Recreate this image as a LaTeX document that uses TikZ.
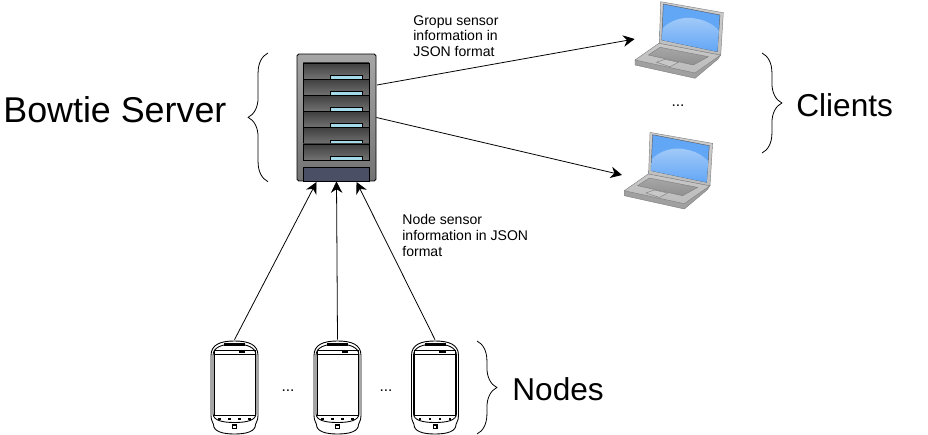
\documentclass[tikz,border=0pt]{standalone}
\usepackage{fontspec}
\setmainfont{Liberation Sans}
\usepackage{tikz}
\usetikzlibrary{arrows.meta,decorations.pathreplacing}
\definecolor{lidgray}{HTML}{BCBCBC}
\definecolor{basegray}{HTML}{C8C8C8}
\definecolor{frontgray}{HTML}{A0A0A0}
\definecolor{keygray}{HTML}{909090}
\definecolor{screenblue}{HTML}{62A6F6}
\definecolor{screenlight}{HTML}{A4CBF8}
\definecolor{barblue}{HTML}{A5DBE8}
\definecolor{panelblue}{HTML}{4A4F66}
\tikzstyle{host}=[rectangle,inner sep=0,minimum width=1.76cm,minimum height=1.56cm]
\tikzstyle{handset}=[rectangle,inner sep=0,minimum width=0.94cm,minimum height=1.9cm]
\tikzstyle{rack}=[rectangle,draw=black,rounded corners=1pt,line width=0.5pt,top color=gray!70,bottom color=gray!90!black,inner sep=0,minimum width=1.58cm,minimum height=2.54cm]
\tikzstyle{tiny}=[align=left,anchor=north west,inner sep=0,font=\fontsize{8}{9}\selectfont]
\tikzstyle{big}=[inner sep=0,font=\fontsize{20.4}{24}\selectfont]
\tikzstyle{mid}=[inner sep=0,font=\fontsize{18}{22}\selectfont]
\tikzstyle{dots}=[inner sep=0,font=\fontsize{8.8}{10}\selectfont]
\tikzstyle{group}=[draw=black,line width=0.45pt,decorate,decoration={brace,amplitude=11.3pt}]
\tikzstyle{link}=[line width=0.45pt,-{Stealth[length=6.5pt,width=6.5pt]}]

% laptop drawn around its box, #1 is the top left of the lid area
\newcommand{\drawlaptop}[2]{
    \begin{scope}[shift={(#1,#2)},line width=0.25pt]
        \fill[frontgray,draw=gray] (25,60) -- (25,65) -- (85,78.3) -- (108,59) -- (110.7,55) -- cycle;
        \shade[top color=basegray,bottom color=lidgray,draw=gray] (49.3,43) -- (25,60) -- (85,73) -- (110.7,55) -- cycle;
        \shade[top color=lidgray!70,bottom color=lidgray,draw=gray] (50.7,1.7) -- (113.3,12.7) -- (110.7,55) -- (49.3,43.3) -- cycle;
        \fill[screenblue,draw=gray!70!black] (53.3,4) -- (110,15) -- (107.3,51.7) -- (51.7,40) -- cycle;
        \shade[top color=screenlight,bottom color=screenblue] (52.8,28.3) .. controls (60,20) and (75,16) .. (85,18.5) .. controls (95,20) and (103,24) .. (108.9,30.7) -- (107.3,51.7) -- (51.7,40) -- cycle;
        \shade[top color=keygray!80,bottom color=keygray,draw=gray] (38.3,55) -- (50,47.3) -- (98.3,56.7) -- (83.3,65) -- cycle;
        \fill[basegray,draw=gray] (46.7,62.3) -- (55,59.3) -- (68.3,62.3) -- (60,66.7) -- cycle;
    \end{scope}
}
% server rack units, six rows and the panel at the foot
\newcommand{\drawunit}[1]{
    \fill[top color=black!75,bottom color=black!55,draw=black,line width=0.4pt] (303,#1) rectangle (369,#1+16.2);
    \fill[barblue,draw=black,line width=0.4pt] (330,#1+12.2) rectangle (362,#1+16.2);
}
% phone outline around its centre
\newcommand{\drawphone}[1]{
    \begin{scope}[shift={(#1,387.5)},line width=0.5pt]
        \draw[fill=white] (-23.5,-32) .. controls (-23.5,-43) and (-14,-46.5) .. (0,-46.5) .. controls (14,-46.5) and (23.5,-43) .. (23.5,-32)
            -- (23.5,28) .. controls (23.5,34) and (21,35) .. (21,37) .. controls (21,44) and (12,46.5) .. (0,46.5)
            .. controls (-12,46.5) and (-21,44) .. (-21,37) .. controls (-21,35) and (-23.5,34) .. (-23.5,28) -- cycle;
        \draw (-21.5,-32) .. controls (-21.5,-40) and (-13,-43.5) .. (0,-43.5) .. controls (13,-43.5) and (21.5,-40) .. (21.5,-32)
            -- (21.5,26) .. controls (21.5,33) and (12,35) .. (0,35) .. controls (-12,35) and (-21.5,33) .. (-21.5,26) -- cycle;
        \fill (-10.5,-44.5) rectangle (10.5,-42);
        \draw (-20.5,-37.5) rectangle (20.5,27.5);
        \draw (-20.5,-33.5) -- (20.5,-33.5);
        \fill (4,-36.8) rectangle (10.5,-34.3);
        \foreach \bx in {-15,-5,5,15} {
            \fill (\bx-1.2,30.2) rectangle (\bx+1.2,32.6);
        }
        \draw[line width=0.8pt] (-1.8,37.5) rectangle (1.8,41);
    \end{scope}
}

\begin{document}
\begin{tikzpicture}[x=0.02cm,y=-0.02cm,>=stealth]
    \useasboundingbox (0,0) rectangle (928,435);

    \node[rack] (server) at (336.5,117.5) {};
    \foreach \uy in {63,79.2,95.4,111.6,127.8,144} {
        \drawunit{\uy}
    }
    \fill[panelblue,draw=black,line width=0.4pt] (303,167) rectangle (369,181);

    \node[host] (laptop1) at (679,39) {};
    \node[host] (laptop2) at (668,170) {};
    \drawlaptop{610}{0}
    \drawlaptop{599.3}{130.7}

    \node[handset] (phone1) at (234.5,387.5) {};
    \node[handset] (phone2) at (337.5,387.5) {};
    \node[handset] (phone3) at (435,387.5) {};
    \drawphone{234.5}
    \drawphone{337.5}
    \drawphone{435}

    \node[big,anchor=west] (servername) at (3,110) {Bowtie Server};
    \node[mid,anchor=west] (clientname) at (796,105) {Clients};
    \node[mid,anchor=west] (nodename) at (512,389) {Nodes};

    \node[tiny] (grouptext) at (413,15) {Gropu sensor\\information in\\JSON format};
    \node[tiny] (nodetext) at (402,214) {Node sensor\\information in JSON\\format};
    \node[dots] (dots1) at (678,106) {...};
    \node[dots] (dots2) at (288,391) {...};
    \node[dots] (dots3) at (386,391) {...};

    \coordinate (serverout) at (377,85);
    \coordinate (serverleft) at (316.5,182);
    \coordinate (serverright) at (356.5,182);
    \coordinate (laptopin) at (622,175);

    \draw [link] (serverout) -- (laptop1.west);
    \draw [link] (server.east) -- (laptopin);
    \draw [link] (phone1.north) -- (serverleft);
    \draw [link] (phone2.north) -- (server.south);
    \draw [link] (phone3.north) -- (serverright);

    \coordinate (bracea) at (268,53);
    \coordinate (braceb) at (268,181.7);
    \coordinate (bracec) at (762,53);
    \coordinate (braced) at (762,153);
    \coordinate (bracee) at (477,341);
    \coordinate (bracef) at (477,434);
    \draw [group] (braceb) -- (bracea);
    \draw [group] (bracec) -- (braced);
    \draw [group] (bracee) -- (bracef);
\end{tikzpicture}
\end{document}
